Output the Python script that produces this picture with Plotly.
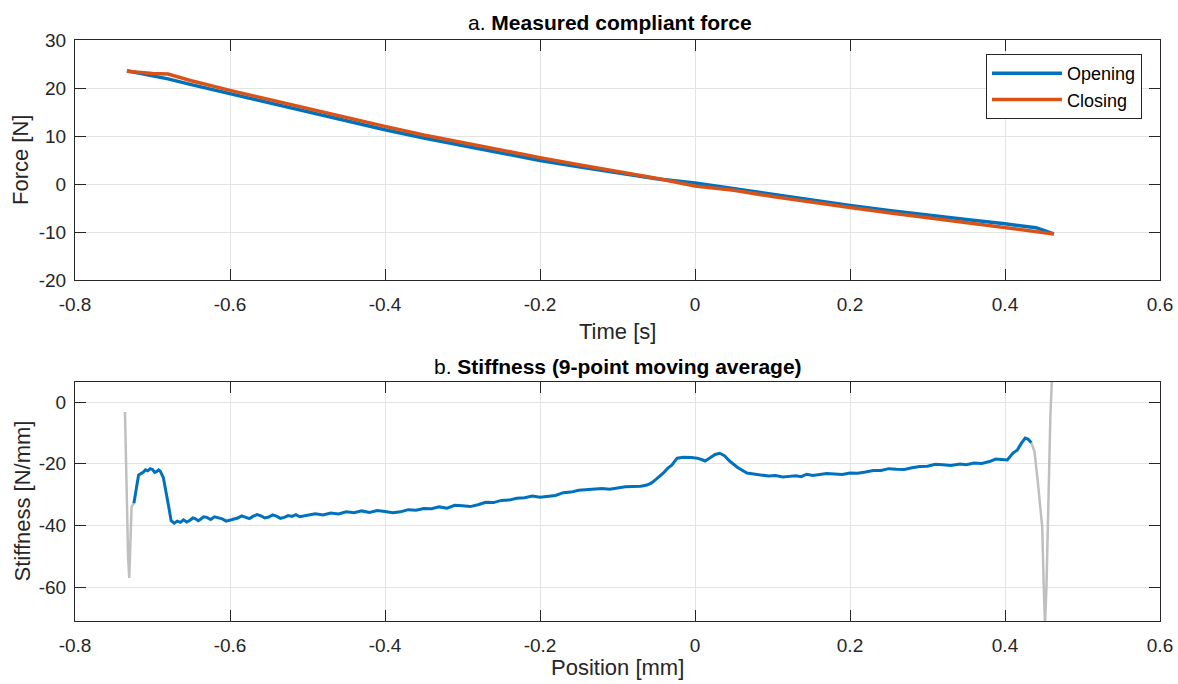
import plotly.graph_objects as go

# ---- panel a: measured compliant force ----
open_t = [-0.733, -0.70, -0.68, -0.65, -0.60, -0.55, -0.50, -0.45, -0.40, -0.35, -0.30,
          -0.25, -0.20, -0.15, -0.10, -0.05, 0.00, 0.05, 0.10, 0.15, 0.20, 0.25,
          0.30, 0.35, 0.40, 0.44, 0.463]
open_f = [23.6, 22.6, 21.9, 20.7, 18.8, 16.9, 15.0, 13.1, 11.3, 9.6, 8.0,
          6.4, 4.9, 3.6, 2.3, 1.1, 0.2, -1.0, -2.2, -3.4, -4.5, -5.5,
          -6.5, -7.4, -8.3, -9.1, -10.4]

close_t = [-0.733, -0.70, -0.68, -0.65, -0.60, -0.55, -0.50, -0.45, -0.40, -0.35, -0.30,
           -0.25, -0.20, -0.15, -0.10, -0.05, 0.00, 0.05, 0.10, 0.15, 0.20, 0.25,
           0.30, 0.35, 0.40, 0.463]
close_f = [23.5, 23.0, 22.9, 21.5, 19.5, 17.6, 15.7, 13.8, 12.0, 10.2, 8.6,
           7.0, 5.5, 4.0, 2.6, 1.2, -0.4, -1.3, -2.6, -3.8, -4.9, -6.0,
           -7.0, -8.0, -9.0, -10.4]

# ---- panel b: stiffness, 9-point moving average ----
stiff_x = [-0.724, -0.721, -0.718, -0.715, -0.712, -0.709, -0.706, -0.703, -0.700, -0.697,
           -0.695, -0.692, -0.690, -0.686, -0.682,
           -0.679, -0.676, -0.672, -0.668, -0.664, -0.660, -0.656, -0.652, -0.648, -0.645,
           -0.641, -0.638, -0.634, -0.630, -0.625,
           -0.620, -0.615, -0.610, -0.605, -0.600, -0.595, -0.590, -0.585, -0.580, -0.575,
           -0.570, -0.565, -0.560, -0.555, -0.550, -0.545, -0.540, -0.535, -0.530, -0.525,
           -0.520, -0.515, -0.510, -0.505, -0.500, -0.490, -0.480, -0.470, -0.460, -0.450,
           -0.440, -0.430, -0.420, -0.410, -0.400, -0.390, -0.380, -0.370, -0.360, -0.350,
           -0.340, -0.330, -0.320, -0.310, -0.300, -0.290, -0.280, -0.270, -0.260, -0.250,
           -0.240, -0.230, -0.220, -0.210, -0.200, -0.190, -0.180, -0.170, -0.160, -0.150,
           -0.140, -0.130, -0.120, -0.110, -0.100, -0.090, -0.080, -0.070, -0.062, -0.056,
           -0.050, -0.045, -0.040, -0.035, -0.030, -0.023, -0.015,
           -0.005, 0.003, 0.010, 0.013, 0.020, 0.026, 0.032, 0.038, 0.045, 0.055,
           0.067, 0.075, 0.080, 0.088, 0.095, 0.104, 0.113, 0.122, 0.130, 0.137,
           0.144, 0.152, 0.160, 0.170, 0.180, 0.190, 0.200, 0.210, 0.220, 0.230,
           0.240, 0.250, 0.260, 0.270, 0.280, 0.290, 0.300, 0.310, 0.320, 0.330,
           0.342, 0.350, 0.360, 0.370, 0.380, 0.388, 0.395, 0.403,
           0.410, 0.416, 0.421, 0.426, 0.430, 0.434]
stiff_y = [-32.8, -28.0, -23.7, -23.2, -22.8, -22.0, -22.3, -21.6, -21.9, -22.8,
           -22.6, -22.0, -22.4, -24.5, -29.5,
           -34.0, -38.5, -39.3, -38.6, -39.0, -38.2, -38.9, -38.4, -37.6, -37.8,
           -38.5, -38.0, -37.2, -37.4, -38.1,
           -37.2, -37.5, -37.9, -38.6, -38.3, -37.9, -37.6, -36.9, -37.3, -37.8,
           -37.0, -36.5, -36.9, -37.6, -37.3, -36.6, -37.0, -37.7, -37.4, -36.8,
           -37.1, -36.5, -37.2, -36.9, -36.8, -36.2, -36.6, -36.0, -36.3, -35.6,
           -35.9, -35.3, -35.8, -35.2, -35.5, -35.9, -35.6, -34.9, -35.1, -34.5,
           -34.6, -34.0, -34.4, -33.5, -33.6, -33.9, -33.3, -32.5, -32.6, -31.9,
           -31.8, -31.2, -31.0, -30.5, -30.9, -30.6, -30.3, -29.4, -29.2, -28.6,
           -28.4, -28.3, -28.0, -28.3, -27.9, -27.5, -27.4, -27.3, -26.9, -26.2,
           -25.0, -24.0, -22.8, -21.4, -20.5, -18.2, -17.9,
           -18.0, -18.2, -18.8, -19.1, -18.0, -17.0, -16.6, -17.4, -19.2, -21.2,
           -23.0, -23.3, -23.6, -23.9, -24.0, -23.8, -24.3, -24.1, -23.9, -24.2,
           -23.4, -23.8, -23.6, -23.2, -23.3, -23.5, -23.0, -23.1, -22.7, -22.2,
           -22.2, -21.6, -21.8, -21.9, -21.3, -20.9, -20.8, -20.2, -20.3, -20.6,
           -20.1, -20.3, -19.8, -19.9, -19.3, -18.5, -18.6, -18.8,
           -16.6, -15.5, -13.4, -11.7, -12.1, -13.2]

# end transients excluded from the averaged curve
edge_x = [-0.7355, -0.7335, -0.7315, -0.7300, -0.7285, -0.7270, -0.724, None,
          0.434, 0.438, 0.442, 0.446, 0.448, 0.450, 0.4516, 0.4535, 0.455, 0.4568, 0.4585, 0.4606]
edge_y = [-3.2, -30.0, -50.0, -57.0, -45.0, -34.0, -32.8, None,
          -13.2, -16.0, -25.0, -36.0, -40.5, -60.0, -72.0, -60.0, -40.0, -20.0, -5.0, 8.0]

x_ticks = [-0.8, -0.6, -0.4, -0.2, 0.0, 0.2, 0.4, 0.6]
x_labels = ["-0.8", "-0.6", "-0.4", "-0.2", "0", "0.2", "0.4", "0.6"]
fa_ticks = [30, 20, 10, 0, -10, -20]
fa_labels = ["30", "20", "10", "0", "-10", "-20"]
kb_ticks = [0, -20, -40, -60]
kb_labels = ["0", "-20", "-40", "-60"]

BLUE = "#0072BD"
ORANGE = "#D95319"
GREY = "#BFBFBF"
INK = "#262626"
GRID = "#E3E3E3"
FONT = "Liberation Sans, Arial, sans-serif"

W, H = 1178, 684
L, R = 75, 1160
A_TOP, A_BOT = 40, 280
B_TOP, B_BOT = 382, 621


def px(x):
    return x / W


def py(y):
    return 1 - y / H


fig = go.Figure()
fig.add_trace(go.Scatter(x=open_t, y=open_f, mode="lines", name="Opening",
                         line=dict(color=BLUE, width=3.5), xaxis="x", yaxis="y"))
fig.add_trace(go.Scatter(x=close_t, y=close_f, mode="lines", name="Closing",
                         line=dict(color=ORANGE, width=3.5), xaxis="x", yaxis="y"))
fig.add_trace(go.Scatter(x=edge_x, y=edge_y, mode="lines", showlegend=False,
                         line=dict(color=GREY, width=2.5), xaxis="x2", yaxis="y2"))
fig.add_trace(go.Scatter(x=stiff_x, y=stiff_y, mode="lines", showlegend=False,
                         line=dict(color=BLUE, width=3), xaxis="x2", yaxis="y2"))

axis_common = dict(
    showline=True, linecolor=INK, linewidth=1, mirror="ticks",
    ticks="inside", ticklen=11, tickwidth=1, tickcolor=INK,
    showgrid=True, gridcolor=GRID, gridwidth=1, zeroline=False,
    automargin=False,
    tickfont=dict(family=FONT, size=19, color=INK),
)
x_common = dict(axis_common, ticklabelstandoff=7)
y_common = dict(axis_common, ticklabelstandoff=4)

fig.update_layout(
    template="none",
    width=W, height=H,
    margin=dict(l=0, r=0, t=0, b=0, autoexpand=False),
    paper_bgcolor="white", plot_bgcolor="white",
    xaxis=dict(domain=[px(L), px(R)], range=[-0.8, 0.6], anchor="y",
               tickmode="array", tickvals=x_ticks, ticktext=x_labels, **x_common),
    yaxis=dict(domain=[py(A_BOT), py(A_TOP)], range=[-20, 30], anchor="x",
               tickmode="array", tickvals=fa_ticks, ticktext=fa_labels, **y_common),
    xaxis2=dict(domain=[px(L), px(R)], range=[-0.8, 0.6], anchor="y2",
                tickmode="array", tickvals=x_ticks, ticktext=x_labels, **x_common),
    yaxis2=dict(domain=[py(B_BOT), py(B_TOP)], range=[-71, 6.5], anchor="x2",
                tickmode="array", tickvals=kb_ticks, ticktext=kb_labels, **y_common),
    legend=dict(x=px(1142), y=py(54), xanchor="right", yanchor="top",
                bgcolor="white", bordercolor=INK, borderwidth=1,
                font=dict(family=FONT, size=18, color="#000000"),
                itemwidth=70, tracegroupgap=0),
    showlegend=True,
)

cx = (L + R) / 2
text_items = [
    ("a. <b>Measured compliant force</b>", cx - 8, 23, 0, 21, "#000000"),
    ("b. <b>Stiffness (9-point moving average)</b>", cx, 366, 0, 21, "#000000"),
    ("Time [s]", cx, 331, 0, 22, INK),
    ("Position [mm]", cx, 667, 0, 22, INK),
    ("Force [N]", 20, (A_TOP + A_BOT) / 2, -90, 22, INK),
    ("Stiffness [N/mm]", 22, (B_TOP + B_BOT) / 2, -90, 22, INK),
]
for txt, x, y, ang, size, col in text_items:
    fig.add_annotation(text=txt, x=px(x), y=py(y), xref="paper", yref="paper",
                       xanchor="center", yanchor="middle", showarrow=False,
                       textangle=ang, font=dict(family=FONT, size=size, color=col))

fig.write_html("out.html")
